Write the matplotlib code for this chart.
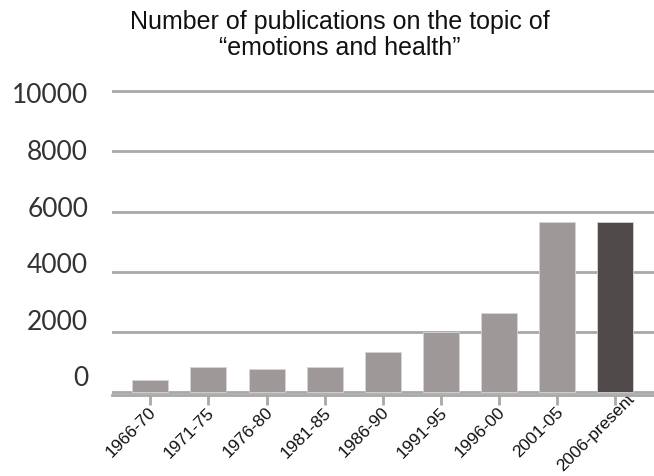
import numpy as np
import matplotlib
matplotlib.use("Agg")
from matplotlib import pyplot as plt
from matplotlib import transforms

periods = ["1966-70", "1971-75", "1976-80", "1981-85", "1986-90",
           "1991-95", "1996-00", "2001-05", "2006-present"]
counts = [415, 825, 760, 825, 1345, 2005, 2640, 5660, 5660]
yticks = [0, 2000, 4000, 6000, 8000, 10000]

light = "#9e9898"
dark = "#504a4a"
grid_c = "#a8a8a8"

fig = plt.figure(figsize=(6.54, 4.76), dpi=100)
ax = fig.add_axes([112 / 654, 81 / 476, 1 - 112 / 654, 305.3 / 476])

x = np.arange(len(periods))
colors = [light] * (len(periods) - 1) + [dark]
ax.bar(x, counts, width=0.62, color=colors, edgecolor="#d8d4d4", linewidth=0.6, zorder=3)

ax.set_xlim(-0.66, 8.67)
ax.set_ylim(-100, 10050)
ax.set_yticks(yticks)
ax.yaxis.grid(True, color=grid_c, linewidth=2.0, zorder=1)
ax.tick_params(axis="y", length=0, labelleft=False)

# y labels sit a little off the grid lines in the original
trans = transforms.blended_transform_factory(ax.transAxes, ax.transData)
for v in yticks:
    ax.text(-0.044, 432 + v * 0.9415, str(v), transform=trans, ha="right", va="center",
            fontsize=19, family="Lato", color="#333333")

for s in ["top", "right", "left"]:
    ax.spines[s].set_visible(False)
ax.spines["bottom"].set_color(grid_c)
ax.spines["bottom"].set_linewidth(2.0)
ax.spines["bottom"].set_position(("data", -100))

ax.set_xticks(x)
ax.set_xticklabels(periods, rotation=45, ha="center", va="center", rotation_mode="anchor",
                   fontsize=12.5, family="Liberation Sans", color="#111111")
ax.tick_params(axis="x", length=7, width=2, color=grid_c, pad=0)
# labels are centred a bit left of and below each tick
shift = transforms.ScaledTranslation(-19 / 100, -28 / 100, fig.dpi_scale_trans)
for lab in ax.get_xticklabels():
    lab.set_transform(lab.get_transform() + shift)

fig.text(0.52, 0.926, "Number of publications on the topic of\n\u201cemotions and health\u201d",
         ha="center", va="center", fontsize=18, family="Liberation Sans",
         linespacing=1.12, color="#111111")

fig.savefig("out.png", dpi=100)
